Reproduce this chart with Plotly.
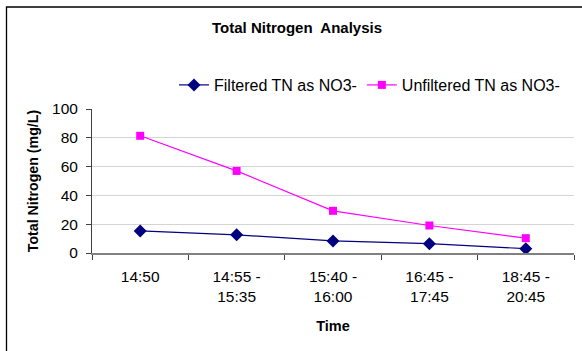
import plotly.graph_objects as go

categories = ["14:50", "14:55 -<br>15:35", "15:40 -<br>16:00", "16:45 -<br>17:45", "18:45 -<br>20:45"]
filtered = [15.3, 12.6, 8.4, 6.5, 3.0]
unfiltered = [81.4, 57.0, 29.3, 19.1, 10.3]

W, H = 582, 351
L, R, T, B = 92, 8, 109, 98
pw, ph = W - L - R, H - T - B

def px_x(x):
    return (x - L) / pw

def px_y(y):
    return (H - B - y) / ph

fig = go.Figure()
fig.add_trace(go.Scatter(
    x=categories, y=filtered, mode="lines+markers", name="Filtered TN as NO3-",
    line=dict(color="#000080", width=1.2),
    marker=dict(symbol="diamond", size=10, color="#000080"),
))
fig.add_trace(go.Scatter(
    x=categories, y=unfiltered, mode="lines+markers", name="Unfiltered TN as NO3-",
    line=dict(color="#FF00FF", width=1.2),
    marker=dict(symbol="square", size=8, color="#FF00FF"),
))

fig.update_layout(
    width=W, height=H,
    margin=dict(l=L, r=R, t=T, b=B),
    paper_bgcolor="white", plot_bgcolor="white",
    font=dict(family="Arial, Liberation Sans, sans-serif", size=15, color="black"),
    showlegend=True,
    legend=dict(orientation="h", x=px_x(174), y=px_y(85), xanchor="left", yanchor="middle",
                font=dict(size=16), bgcolor="rgba(0,0,0,0)", tracegroupgap=0,
                itemwidth=30),
    xaxis=dict(
        type="category", range=[-0.5, 4.5], showgrid=False, automargin=False,
        showline=True, linecolor="#808080", linewidth=2,
        ticks="outside", tickson="boundaries", ticklen=5, tickcolor="#404040",
        tickfont=dict(size=15.5), ticklabelstandoff=8,
        title=dict(text="<b>Time</b>", font=dict(size=14.5), standoff=17),
    ),
    yaxis=dict(
        range=[0, 100], dtick=20, showgrid=True, gridcolor="#d4d4d4", gridwidth=1,
        showline=True, linecolor="#404040", linewidth=1, zeroline=False, automargin=False,
        ticks="outside", ticklen=5, tickcolor="#404040",
        tickfont=dict(size=15.5), ticklabelstandoff=5,
        title=dict(text="<b>Total Nitrogen (mg/L)</b>", font=dict(size=14.2), standoff=10),
    ),
    annotations=[dict(
        text="<b>Total Nitrogen&nbsp; Analysis</b>", xref="paper", yref="paper",
        x=px_x(296.5), y=px_y(27), xanchor="center", yanchor="middle",
        showarrow=False, font=dict(size=15),
    )],
    shapes=[dict(
        type="rect", xref="paper", yref="paper",
        x0=px_x(6.5), y0=px_y(400), x1=px_x(640), y1=px_y(7),
        line=dict(color="black", width=1.3), layer="below",
    )],
)

fig.write_html("out.html", config={"displayModeBar": False},
               post_script="document.body.style.margin='0';")
